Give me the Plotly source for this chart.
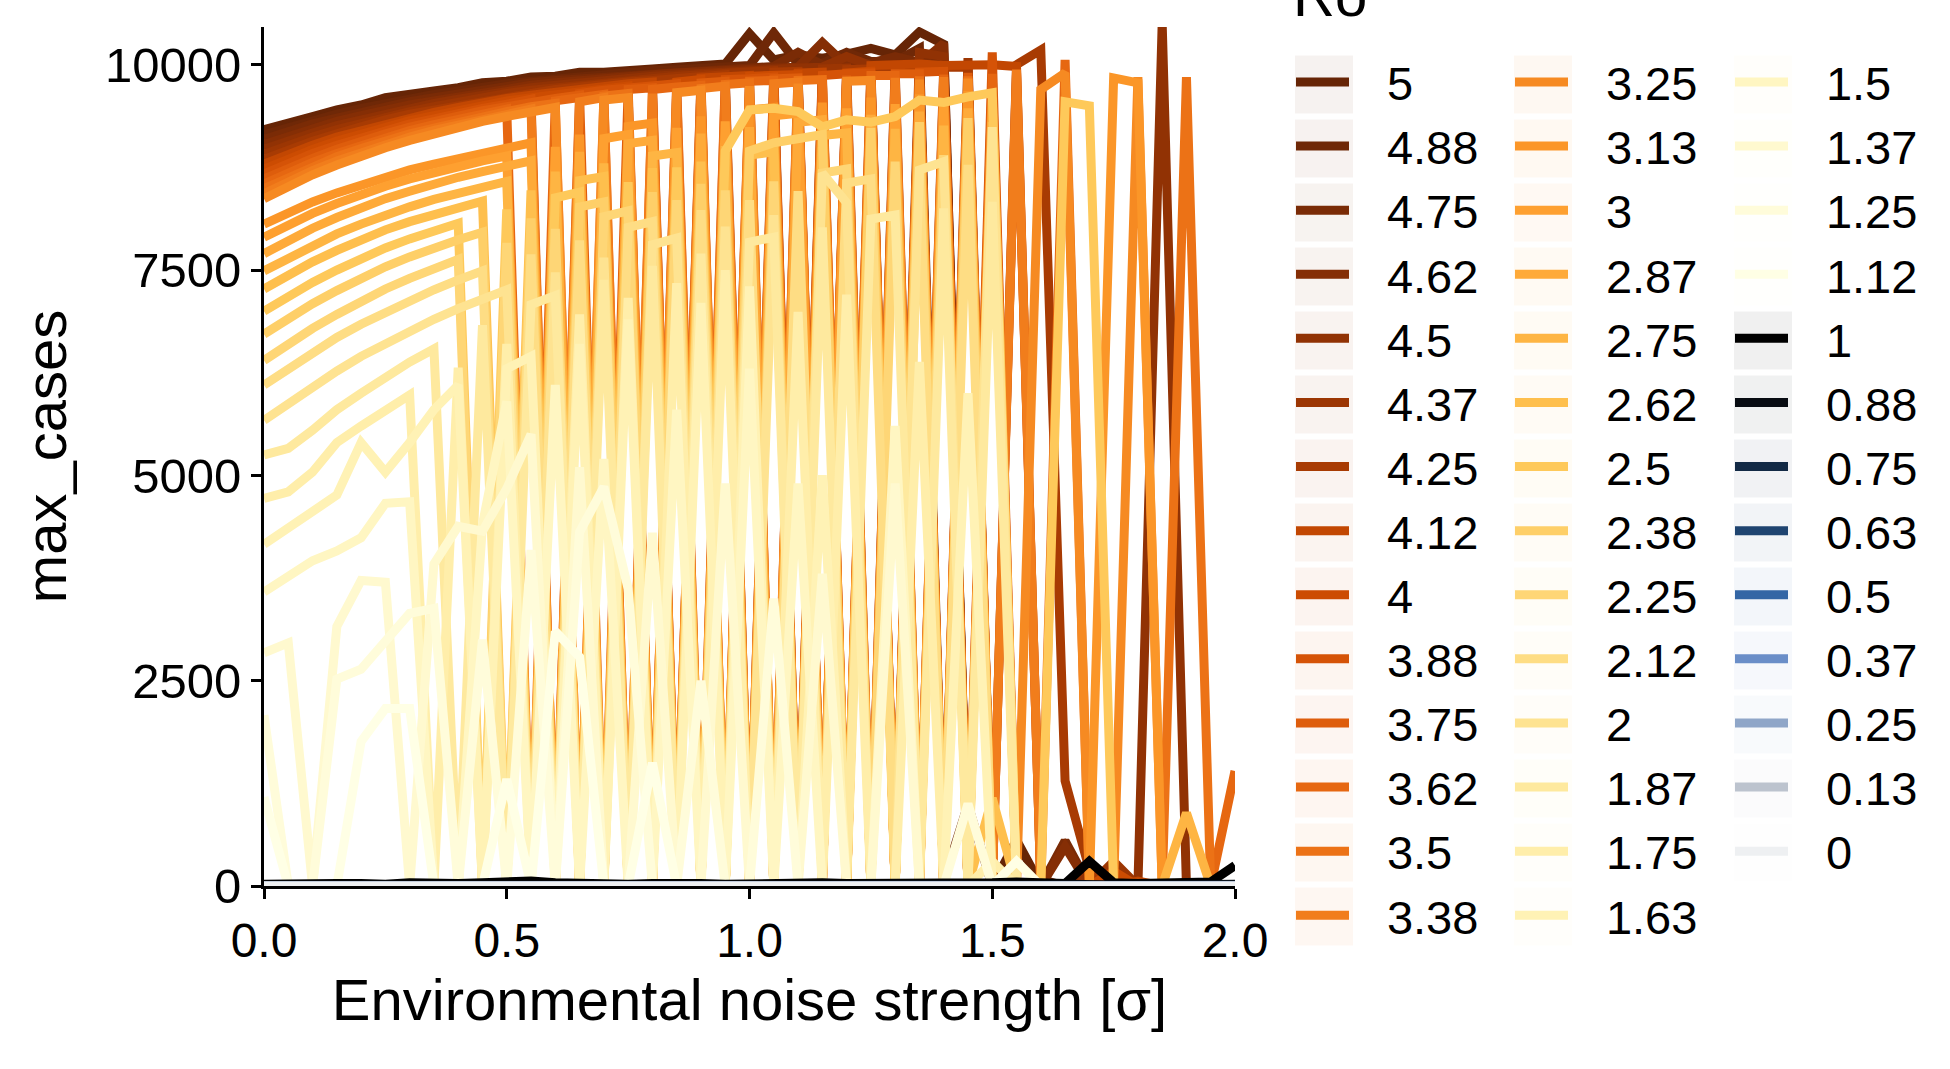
import plotly.graph_objects as go

# noise strength (sigma) grid
sigma = [0.0, 0.05, 0.1, 0.15, 0.2, 0.25, 0.3, 0.35, 0.4, 0.45,
         0.5, 0.55, 0.6, 0.65, 0.7, 0.75, 0.8, 0.85, 0.9, 0.95,
         1.0, 1.05, 1.1, 1.15, 1.2, 1.25, 1.3, 1.35, 1.4, 1.45,
         1.5, 1.55, 1.6, 1.65, 1.7, 1.75, 1.8, 1.85, 1.9, 1.95,
         2.0]

ro_labels = ["5", "4.88", "4.75", "4.62", "4.5", "4.37", "4.25", "4.12", "4", "3.88",
             "3.75", "3.62", "3.5", "3.38", "3.25", "3.13", "3", "2.87", "2.75", "2.62",
             "2.5", "2.38", "2.25", "2.12", "2", "1.87", "1.75", "1.63", "1.5", "1.37",
             "1.25", "1.12", "1", "0.88", "0.75", "0.63", "0.5", "0.37", "0.25", "0.13", "0"]

ro_colors = ["#662506", "#6f2807", "#7a2b06", "#852e05", "#913204", "#9c3603", "#a83b03", "#c24702",
             "#cc4c02", "#d55307", "#de5d0c", "#e66711", "#ec7216", "#f17d1c", "#f68a22", "#fb9628",
             "#fea030", "#feaa39", "#feb543", "#febf4d", "#fec95a", "#fecf68", "#fed676", "#fedd84",
             "#fee391", "#fee99e", "#ffeeaa", "#fff2b5", "#fff6c2", "#fff9cf", "#fffcda", "#ffffe5",
             "#000000", "#080c12", "#132a45", "#1f4470", "#3466a5", "#6a8ec8", "#8fa6c8", "#bcc3ce", "#eef0f2"]

R5 = [9210, 9300, 9370, 9450, 9510, 9600, 9630, 9680, 9720, 9780,
      9800, 9850, 9860, 9910, 9910, 9940, 9950, 9970, 9990, 10010,
      10380, 10060, 10120, 10080, 10130, 10200, 10120, 10400, 10250, 40,
      0, 560, 10, 0, 250, 0, 0, 10, 0, 0,
      0]
R4_88 = [9150, 9240, 9330, 9400, 9470, 9530, 9590, 9640, 9680, 9730,
         9770, 9800, 9830, 9860, 9890, 9910, 9930, 9940, 9960, 9980,
         9990, 10390, 10010, 10020, 10150, 10040, 10040, 10200, 60, 990,
         0, 0, 80, 0, 30, 0, 0, 0, 0, 0,
         0]
R4_75 = [9090, 9190, 9280, 9350, 9420, 9490, 9550, 9600, 9650, 9700,
         9740, 9780, 9810, 9830, 9860, 9880, 9900, 9920, 9940, 9960,
         9970, 9980, 10150, 10000, 10010, 10020, 10100, 10030, 10100, 0,
         0, 0, 0, 550, 0, 0, 0, 0, 0, 0,
         0]
R4_62 = [9030, 9130, 9230, 9310, 9380, 9450, 9510, 9560, 9610, 9670,
         9710, 9750, 9780, 9810, 9840, 9860, 9880, 9900, 9920, 9940,
         9950, 9960, 9970, 10270, 9990, 10000, 10010, 10010, 10260, 0,
         0, 20, 0, 480, 0, 0, 0, 0, 0, 0,
         0]
R4_5 = [8970, 9080, 9170, 9260, 9330, 9410, 9470, 9530, 9580, 9630,
        9680, 9720, 9750, 9780, 9820, 9840, 9860, 9880, 9900, 9920,
        9930, 9940, 9960, 9970, 10100, 9990, 0, 10150, 10100, 0,
        0, 0, 0, 0, 120, 0, 0, 10500, 0, 0,
        0]
R4_37 = [8910, 9020, 9120, 9210, 9290, 9370, 9430, 9490, 9550, 9600,
         9650, 9690, 9720, 9760, 9790, 9810, 9840, 9860, 9880, 9900,
         9910, 9930, 0, 9950, 9960, 0, 9980, 9980, 0, 10080,
         0, 0, 0, 0, 0, 300, 0, 0, 0, 0,
         0]
R4_25 = [8850, 8970, 9070, 9160, 9250, 9330, 9400, 9450, 9510, 9570,
         9620, 9660, 9700, 9730, 9770, 9790, 9810, 9840, 9860, 9880,
         0, 9910, 9920, 0, 9940, 9950, 9960, 0, 9970, 9970,
         0, 10000, 10180, 1280, 200, 0, 0, 0, 0, 0,
         0]
R4_12 = [8790, 8910, 9020, 9120, 9200, 9280, 9360, 9420, 9480, 9540,
         9590, 9630, 9670, 9700, 9740, 9770, 9790, 0, 9840, 9860,
         9870, 0, 9900, 9910, 0, 9990, 10000, 10010, 9990, 10000,
         10000, 9980, 0, 0, 0, 0, 60, 0, 0, 0,
         0]
R4 = [8730, 8860, 8970, 9070, 9160, 9240, 9320, 9380, 9440, 9510,
      9560, 9600, 9640, 9680, 9720, 9740, 0, 9790, 9820, 0,
      9860, 9870, 9880, 0, 9900, 9920, 0, 9930, 0, 0,
      0, 0, 0, 0, 0, 180, 0, 0, 0, 0,
      0]
R3_88 = [8670, 8800, 8920, 9020, 9110, 9200, 9280, 9340, 9410, 9470,
         9520, 9580, 0, 9650, 9690, 9720, 9750, 9770, 0, 9820,
         9830, 9850, 0, 9870, 9890, 9900, 0, 9910, 9920, 0,
         10150, 0, 0, 0, 0, 0, 0, 0, 0, 0,
         0]
R3_75 = [8610, 8740, 8860, 8970, 9070, 9160, 9240, 9310, 9370, 9440,
         9490, 9550, 9590, 9630, 0, 9700, 9720, 0, 9780, 9800,
         0, 9830, 9840, 0, 9870, 0, 9890, 9890, 0, 9900,
         0, 9900, 0, 0, 0, 0, 0, 0, 0, 0,
         0]
R3_62 = [8550, 8690, 8810, 8920, 9020, 9120, 9200, 9270, 9340, 9410,
         9460, 0, 9560, 9600, 9640, 0, 9700, 9730, 9750, 0,
         9800, 9810, 0, 9840, 0, 9870, 9870, 0, 9880, 0,
         9890, 0, 0, 10060, 0, 0, 0, 0, 0, 0,
         1400]
R3_5 = [8490, 8630, 8760, 8880, 8980, 9080, 9160, 9230, 9300, 9380,
        9430, 9490, 9530, 0, 9620, 9650, 0, 9700, 0, 9760,
        9780, 0, 9810, 9820, 0, 9850, 0, 9860, 0, 9860,
        0, 0, 0, 0, 0, 0, 0, 0, 9850, 0,
        0]
R3_38 = [8430, 8580, 8710, 8830, 8930, 9030, 9120, 9200, 9270, 9340,
         9400, 9460, 0, 9550, 9600, 0, 9650, 0, 9710, 9740,
         0, 9770, 9790, 0, 9820, 0, 9840, 0, 9850, 0,
         0, 9940, 0, 0, 0, 0, 0, 0, 0, 0,
         0]
R3_25 = [8370, 8520, 8660, 8780, 8890, 8990, 9080, 9160, 9240, 9310,
         9370, 9430, 9480, 0, 9570, 9600, 0, 9660, 9690, 0,
         9740, 0, 9770, 0, 9800, 9810, 0, 9820, 0, 9830,
         0, 0, 9700, 9900, 0, 0, 9850, 0, 0, 0,
         0]
R3_13 = [8060, 8200, 8330, 8440, 8540, 8640, 8720, 8790, 8860, 8930,
         8990, 9050, 0, 9150, 0, 9250, 9290, 0, 9370, 0,
         9450, 9480, 0, 9540, 0, 9600, 0, 9640, 0, 9680,
         0, 0, 0, 0, 0, 9840, 9780, 0, 0, 0,
         0]
R3_0 = [7900, 8050, 8190, 8310, 8420, 8520, 8610, 8690, 8760, 8830,
        8890, 0, 9000, 0, 9100, 9150, 0, 9230, 0, 9310,
        0, 9380, 9410, 0, 9470, 0, 9520, 0, 9560, 0,
        9600, 0, 0, 0, 0, 0, 0, 0, 0, 0,
        0]
R2_87 = [7700, 7860, 8010, 8140, 8260, 8370, 8460, 8550, 8630, 8700,
         8770, 8830, 0, 8940, 0, 9040, 9080, 0, 9160, 0,
         9240, 0, 9300, 9330, 0, 9390, 0, 9430, 0, 9470,
         0, 0, 0, 0, 0, 0, 0, 0, 0, 0,
         0]
R2_75 = [7490, 7650, 7800, 7940, 8060, 8170, 8270, 8360, 8440, 8510,
         8580, 0, 8700, 0, 8800, 0, 8890, 8930, 0, 9010,
         0, 9080, 0, 9140, 9170, 0, 9220, 0, 9260, 0,
         9300, 0, 0, 0, 0, 0, 0, 0, 890, 0,
         0]
R2_62 = [7270, 7440, 7600, 7740, 7870, 7990, 8090, 8180, 8260, 8340,
         0, 8470, 0, 8590, 8640, 0, 8740, 0, 8820, 0,
         8900, 8940, 0, 9000, 0, 9060, 0, 9110, 0, 0,
         1070, 0, 0, 0, 0, 0, 0, 0, 0, 0,
         0]
R2_5 = [7000, 7180, 7350, 7500, 7640, 7770, 7880, 7980, 8070, 0,
        8240, 0, 8380, 8450, 0, 8570, 0, 8750, 0, 8950,
        9450, 9470, 9430, 9245, 9330, 9300, 9370, 9570, 9540, 9610,
        9660, 0, 0, 9550, 9500, 0, 0, 0, 0, 0,
        0]
R2_38 = [6720, 6910, 7090, 7250, 7400, 7540, 7660, 7770, 7870, 7960,
         0, 8130, 0, 8270, 8330, 0, 8450, 0, 8550, 0,
         8950, 9050, 9100, 9150, 0, 9230, 0, 9300, 0, 9350,
         0, 0, 0, 0, 0, 0, 0, 0, 0, 0,
         0]
R2_25 = [6400, 6600, 6790, 6960, 7120, 7270, 7400, 7520, 7630, 0,
         7830, 0, 8000, 0, 8150, 8220, 0, 8350, 0, 8470,
         0, 8580, 0, 8680, 8730, 0, 8820, 0, 8900, 0,
         0, 0, 0, 0, 0, 0, 0, 0, 0, 0,
         0]
R2_12 = [6100, 6300, 6500, 6680, 6840, 6990, 7130, 7260, 7380, 7490,
         0, 7690, 0, 7860, 0, 8020, 8090, 0, 8230, 0,
         8350, 0, 8460, 0, 8560, 8610, 0, 8700, 0, 8780,
         0, 0, 0, 0, 0, 0, 0, 0, 0, 0,
         0]
R2_0 = [5670, 5880, 6080, 6270, 6450, 6610, 6760, 6900, 7030, 7150,
        7260, 0, 7470, 0, 7650, 0, 7810, 7890, 0, 8030,
        0, 8170, 0, 8680, 8320, 0, 0, 8720, 8820, 0,
        9240, 0, 0, 0, 0, 0, 0, 0, 0, 0,
        0]
R1_87 = [5250, 5330, 5550, 5800, 6000, 6200, 6380, 6540, 0, 6830,
         0, 7080, 7190, 0, 7380, 0, 7550, 0, 7700, 0,
         7840, 7900, 0, 8020, 0, 8120, 8170, 0, 8250, 0,
         8330, 0, 0, 0, 0, 0, 0, 0, 0, 0,
         0]
R1_75 = [4720, 4800, 5040, 5400, 5600, 5800, 5980, 0, 6310, 0,
         6600, 0, 0, 6960, 0, 7160, 0, 7340, 0, 7500,
         0, 0, 6990, 0, 7200, 0, 0, 6380, 0, 0,
         300, 0, 0, 0, 0, 0, 0, 0, 0, 0,
         0]
R1_63 = [4160, 4360, 4560, 4760, 5400, 5040, 5400, 5800, 6100, 0,
         6300, 6450, 0, 6600, 0, 6900, 0, 0, 7100, 0,
         7300, 0, 0, 5000, 0, 0, 0, 0, 0, 6000,
         0, 0, 0, 0, 0, 0, 0, 0, 0, 0,
         0]
R1_5 = [3580, 3760, 3960, 4080, 4240, 4660, 4680, 0, 0, 4400,
        5900, 0, 6100, 0, 5200, 0, 0, 5800, 0, 0,
        6300, 0, 4900, 0, 0, 0, 5600, 0, 0, 0,
        0, 0, 0, 0, 0, 0, 0, 0, 0, 0,
        0]
R1_37 = [2840, 2960, 0, 3160, 3720, 3700, 0, 3920, 4380, 4320,
         4840, 5500, 0, 5100, 0, 0, 4300, 0, 0, 4900,
         0, 0, 0, 3800, 0, 0, 4900, 0, 0, 0,
         0, 0, 0, 0, 0, 0, 0, 0, 0, 0,
         0]
R1_25 = [2080, 0, 0, 2520, 2640, 3000, 3320, 3380, 0, 3000,
         0, 4090, 0, 4310, 4860, 3620, 0, 0, 2500, 0,
         0, 3500, 0, 0, 0, 0, 0, 0, 0, 1000,
         0, 0, 0, 0, 0, 0, 0, 0, 0, 0,
         0]
R1_12 = [1080, 0, 0, 0, 1760, 2160, 2160, 0, 0, 0,
         1300, 0, 3100, 2790, 0, 0, 1500, 0, 0, 0,
         0, 0, 0, 0, 0, 0, 0, 0, 0, 0,
         0, 300, 0, 0, 0, 0, 0, 0, 0, 0,
         0]
R1 = [20, 30, 20, 30, 30, 20, 40, 30, 30, 40,
      50, 60, 40, 30, 30, 20, 30, 40, 30, 20,
      30, 20, 30, 40, 30, 30, 20, 30, 40, 30,
      40, 50, 30, 30, 300, 40, 30, 30, 40, 50,
      250]
R0_88 = [10, 15, 10, 12, 10, 15, 12, 10, 15, 20,
         25, 15, 10, 12, 10, 15, 12, 10, 15, 10,
         12, 10, 15, 12, 10, 15, 12, 10, 15, 10,
         12, 10, 15, 20, 25, 15, 10, 12, 10, 15,
         20]
R0_75 = [6, 8, 6, 7, 6, 8, 7, 6, 8, 10,
         12, 8, 6, 7, 6, 8, 7, 6, 8, 6,
         7, 6, 8, 7, 6, 8, 7, 6, 8, 6,
         7, 6, 8, 10, 12, 8, 6, 7, 6, 8,
         10]
R0_63 = [4, 5, 4, 5, 4, 5, 4, 5, 4, 6,
         7, 5, 4, 5, 4, 5, 4, 5, 4, 5,
         4, 5, 4, 5, 4, 5, 4, 5, 4, 5,
         4, 5, 4, 6, 7, 5, 4, 5, 4, 5,
         6]
R0_5 = [3, 3, 2, 3, 3, 2, 3, 3, 2, 3,
        4, 3, 2, 3, 3, 2, 3, 3, 2, 3,
        3, 2, 3, 3, 2, 3, 3, 2, 3, 3,
        2, 3, 3, 4, 4, 3, 2, 3, 3, 2,
        3]
R0_37 = [2, 2, 1, 2, 2, 1, 2, 2, 1, 2,
         2, 2, 1, 2, 2, 1, 2, 2, 1, 2,
         2, 1, 2, 2, 1, 2, 2, 1, 2, 2,
         1, 2, 2, 2, 3, 2, 1, 2, 2, 1,
         2]
R0_25 = [1, 1, 1, 1, 1, 1, 1, 1, 1, 1,
         1, 1, 1, 1, 1, 1, 1, 1, 1, 1,
         1, 1, 1, 1, 1, 1, 1, 1, 1, 1,
         1, 1, 1, 1, 2, 1, 1, 1, 1, 1,
         1]
R0_13 = [0, 1, 0, 1, 0, 1, 0, 1, 0, 1,
         0, 1, 0, 1, 0, 1, 0, 1, 0, 1,
         0, 1, 0, 1, 0, 1, 0, 1, 0, 1,
         0, 1, 0, 1, 0, 1, 0, 1, 0, 1,
         0]
R0 = [0, 0, 0, 0, 0, 0, 0, 0, 0, 0,
      0, 0, 0, 0, 0, 0, 0, 0, 0, 0,
      0, 0, 0, 0, 0, 0, 0, 0, 0, 0,
      0, 0, 0, 0, 0, 0, 0, 0, 0, 0,
      0]

series = [R5, R4_88, R4_75, R4_62, R4_5, R4_37, R4_25, R4_12, R4, R3_88,
          R3_75, R3_62, R3_5, R3_38, R3_25, R3_13, R3_0, R2_87, R2_75, R2_62,
          R2_5, R2_38, R2_25, R2_12, R2_0, R1_87, R1_75, R1_63, R1_5, R1_37,
          R1_25, R1_12, R1, R0_88, R0_75, R0_63, R0_5, R0_37, R0_25, R0_13, R0]

bad = [ro_labels[i] for i, s in enumerate(series) if len(s) != len(sigma)]
if bad:
    raise ValueError("bad lengths: %s" % bad)

FONT = "Liberation Sans, Arial, Helvetica, sans-serif"

# figure geometry (pixels)
W, H = 1950, 1069
ML, MR, MT, MB = 264, 715, 27, 183
PW, PH = W - ML - MR, H - MT - MB

# legend geometry (pixels)
ROWS_PER_COL = 14
ROW_PITCH = 64.0
FIRST_ROW_Y = 84.6
COL_LEFT = [1291, 1510, 1730]
KEY_W, KEY_H = 58, 58
LABEL_PAD = "\u2002\u2009"


def tint(hexcol, alpha):
    h = hexcol.lstrip("#")
    r, g, b = int(h[0:2], 16), int(h[2:4], 16), int(h[4:6], 16)
    return "rgba(%d,%d,%d,%.3f)" % (r, g, b, alpha)


fig = go.Figure()
for i, (lab, col, ys) in enumerate(zip(ro_labels, ro_colors, series)):
    leg = ["legend", "legend2", "legend3"][i // ROWS_PER_COL]
    fig.add_trace(go.Scatter(x=sigma, y=ys, mode="lines", name=LABEL_PAD + lab,
                             line=dict(color=col, width=9), legend=leg))

# light tinted squares behind the legend keys (ggplot-style key background)
shapes = []
for i, col in enumerate(ro_colors):
    c, r = divmod(i, ROWS_PER_COL)
    cx_left = COL_LEFT[c] + 4
    cy = FIRST_ROW_Y + r * ROW_PITCH
    x0 = (cx_left - ML) / PW
    x1 = (cx_left + KEY_W - ML) / PW
    y0 = (H - MB - (cy + KEY_H / 2)) / PH
    y1 = (H - MB - (cy - KEY_H / 2)) / PH
    shapes.append(dict(type="rect", xref="paper", yref="paper", x0=x0, x1=x1, y0=y0, y1=y1,
                       line=dict(width=0), fillcolor=tint(col, 0.06), layer="below"))

legend_common = dict(xref="container", yref="container", xanchor="left", yanchor="top",
                     y=0.958, font=dict(family=FONT, size=47, color="black"),
                     bgcolor="rgba(0,0,0,0)", itemwidth=53, traceorder="normal",
                     tracegroupgap=0, maxheight=1000)

fig.update_layout(
    width=W, height=H,
    margin=dict(l=ML, r=MR, t=MT, b=MB),
    paper_bgcolor="white", plot_bgcolor="white",
    font=dict(family=FONT, color="black"),
    showlegend=True,
    legend=dict(x=COL_LEFT[0] / W, **legend_common),
    legend2=dict(x=COL_LEFT[1] / W, **legend_common),
    legend3=dict(x=COL_LEFT[2] / W, **legend_common),
    shapes=shapes,
    xaxis=dict(range=[0, 2], tickvals=[0, 0.5, 1, 1.5, 2],
               ticktext=["0.0", "0.5", "1.0", "1.5", "2.0"],
               showline=True, linecolor="black", linewidth=3,
               ticks="outside", ticklen=10, tickwidth=3, tickcolor="black",
               tickfont=dict(size=48, color="black"), showgrid=False, zeroline=False,
               title=dict(text="Environmental noise strength [σ]", font=dict(size=58), standoff=12)),
    yaxis=dict(range=[0, 10460], tickvals=[0, 2500, 5000, 7500, 10000],
               ticktext=["0", "2500", "5000", "7500", "10000"],
               showline=True, linecolor="black", linewidth=3,
               ticks="outside", ticklen=10, tickwidth=3, tickcolor="black",
               tickfont=dict(size=49, color="black"), showgrid=False, zeroline=False,
               title=dict(text="max_cases", font=dict(size=58), standoff=20)),
    annotations=[dict(text="Ro", xref="paper", yref="paper", x=1.058, y=1.037,
                      xanchor="left", yanchor="middle", showarrow=False,
                      font=dict(family=FONT, size=58, color="black"))],
)

fig.write_html("out.html")
